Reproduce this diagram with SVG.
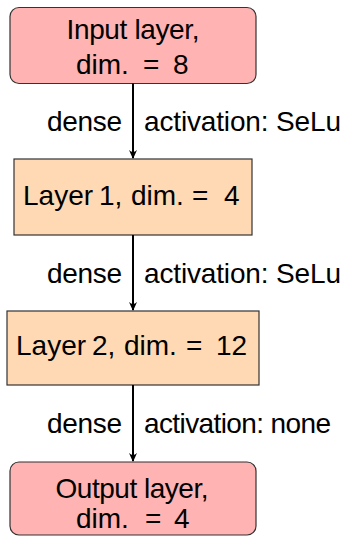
<svg xmlns="http://www.w3.org/2000/svg" width="342" height="536" viewBox="0 0 342 536">
  <style>
    text { font-family: "Liberation Sans", Arial, sans-serif; font-size: 28px; fill: #000; }
    .mid { text-anchor: middle; }
    .end { text-anchor: end; }
    .io { fill: #ffb3b3; stroke: #333; stroke-width: 1.2; }
    .hidden { fill: #ffd9b3; stroke: #333; stroke-width: 1.2; }
    .edge { stroke: #000; stroke-width: 2; fill: none; }
  </style>
  <defs>
    <marker id="arrow" viewBox="0 0 10 10" refX="9" refY="5" markerWidth="5" markerHeight="5" orient="auto" markerUnits="strokeWidth">
      <path d="M1,1 Q5,5 1,9 L10,5 Z" fill="#000"/>
    </marker>
  </defs>

  <g id="input">
    <rect class="io" x="10" y="7.5" width="246" height="76" rx="9"/>
    <text class="mid" x="133" y="39" textLength="133">Input layer,</text>
    <text y="74"><tspan x="76">dim.</tspan><tspan x="143">=</tspan><tspan x="173">8</tspan></text>
  </g>

  <g id="layer1">
    <rect class="hidden" x="14" y="159" width="238" height="76"/>
    <text y="205"><tspan x="23">Layer</tspan><tspan x="99">1,</tspan><tspan x="131">dim.</tspan><tspan x="192">=</tspan><tspan x="224">4</tspan></text>
  </g>

  <g id="layer2">
    <rect class="hidden" x="7" y="311" width="252" height="74"/>
    <text y="355"><tspan x="16">Layer</tspan><tspan x="92">2,</tspan><tspan x="124">dim.</tspan><tspan x="186">=</tspan><tspan x="216">12</tspan></text>
  </g>

  <g id="output">
    <rect class="io" x="10" y="462" width="246" height="73" rx="9"/>
    <text class="mid" x="132" y="498" textLength="153">Output layer,</text>
    <text y="528"><tspan x="76">dim.</tspan><tspan x="145">=</tspan><tspan x="174">4</tspan></text>
  </g>

  <g id="connectors">
    <line class="edge" x1="133" y1="83.5" x2="133" y2="158" marker-end="url(#arrow)"/>
    <line class="edge" x1="133" y1="235" x2="133" y2="310" marker-end="url(#arrow)"/>
    <line class="edge" x1="133" y1="385" x2="133" y2="461" marker-end="url(#arrow)"/>
    <text class="end" x="122" y="131" textLength="75">dense</text>
    <text x="144" y="131" textLength="197">activation: SeLu</text>
    <text class="end" x="122" y="283" textLength="75">dense</text>
    <text x="144" y="283" textLength="197">activation: SeLu</text>
    <text class="end" x="122" y="433" textLength="75">dense</text>
    <text x="144" y="433" textLength="187">activation: none</text>
  </g>
</svg>
